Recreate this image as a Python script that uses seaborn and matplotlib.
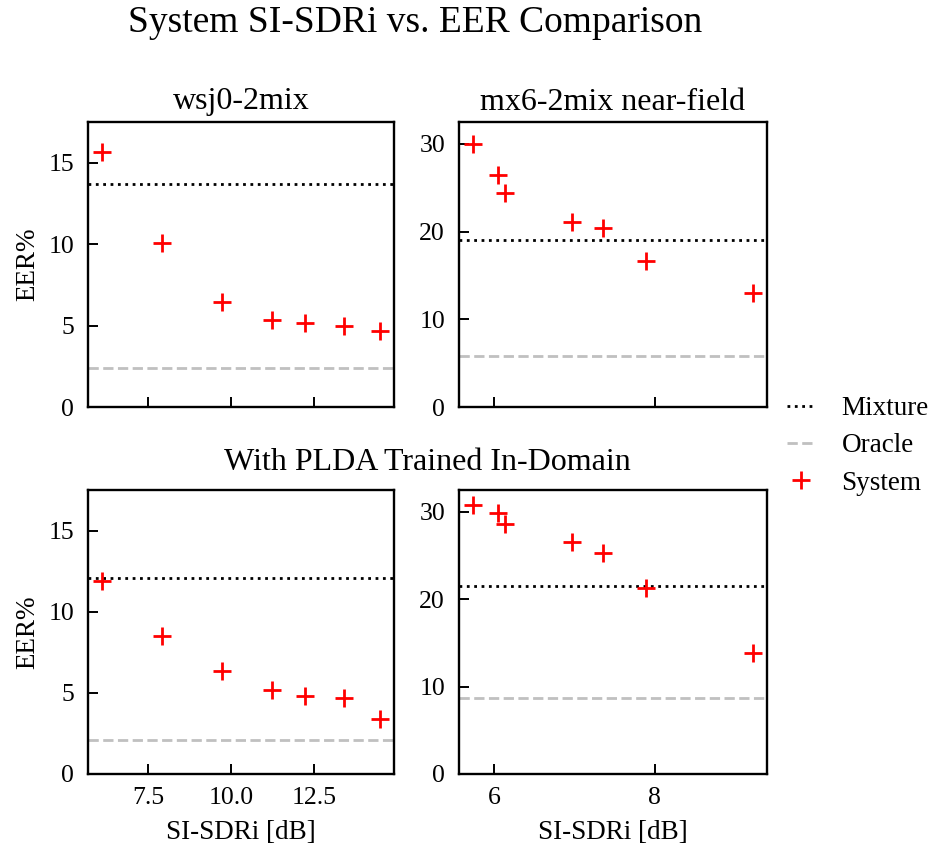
import matplotlib
matplotlib.use('Agg')
import matplotlib.pyplot as plt
from matplotlib.lines import Line2D
import seaborn as sns
import pandas as pd

# SI-SDRi [dB] of each system, per dataset (same systems in both rows)
sdr_wsj = [6.11, 7.91, 9.74, 11.24, 12.22, 13.40, 14.49]
sdr_mx6 = [5.74, 6.05, 6.14, 6.97, 7.36, 7.89, 9.22]

# EER% of the systems
eer_wsj = [15.63, 10.10, 6.45, 5.33, 5.16, 4.96, 4.69]
eer_mx6 = [30.0, 26.5, 24.4, 21.1, 20.4, 16.6, 12.95]
eer_wsj_plda = [11.90, 8.50, 6.34, 5.17, 4.78, 4.66, 3.39]
eer_mx6_plda = [30.84, 29.85, 28.63, 26.5, 25.32, 21.25, 13.88]

# reference lines
mixture_wsj, oracle_wsj = 13.71, 2.38
mixture_mx6, oracle_mx6 = 19.07, 5.81
mixture_wsj_plda, oracle_wsj_plda = 12.05, 2.09
mixture_mx6_plda, oracle_mx6_plda = 21.48, 8.71

sns.set_style('white')
plt.rcParams['font.family'] = ['Liberation Serif', 'DejaVu Serif']
plt.rcParams['text.color'] = 'black'
plt.rcParams['axes.labelcolor'] = 'black'
plt.rcParams['xtick.color'] = 'black'
plt.rcParams['ytick.color'] = 'black'

fig = plt.figure(figsize=(9.36, 8.44), dpi=100)
W, H = 936, 844

def box(x0, x1, y0, y1):
    return [x0 / W, 1 - y1 / H, (x1 - x0) / W, (y1 - y0) / H]

ax_tl = fig.add_axes(box(88, 394, 122, 407))
ax_tr = fig.add_axes(box(459, 767, 122, 407))
ax_bl = fig.add_axes(box(88, 394, 490, 774), sharex=ax_tl)
ax_br = fig.add_axes(box(459, 767, 490, 774), sharex=ax_tr)

panels = [
    (ax_tl, sdr_wsj, eer_wsj, mixture_wsj, oracle_wsj, 17.5, [0, 5, 10, 15]),
    (ax_tr, sdr_mx6, eer_mx6, mixture_mx6, oracle_mx6, 32.5, [0, 10, 20, 30]),
    (ax_bl, sdr_wsj, eer_wsj_plda, mixture_wsj_plda, oracle_wsj_plda, 17.5, [0, 5, 10, 15]),
    (ax_br, sdr_mx6, eer_mx6_plda, mixture_mx6_plda, oracle_mx6_plda, 32.5, [0, 10, 20, 30]),
]

for ax, xs, ys, mix, orc, ytop, yt in panels:
    df = pd.DataFrame({'sdr': xs, 'eer': ys})
    ax.axhline(mix, color='black', linestyle=':', linewidth=2.0)
    ax.axhline(orc, color='#c0c0c0', linestyle='--', linewidth=2.0)
    sns.scatterplot(data=df, x='sdr', y='eer', ax=ax, marker='+', color='red',
                    s=160, linewidth=2.0, zorder=3)
    ax.set_ylim(0, ytop)
    ax.set_yticks(yt)
    ax.set_xlabel('')
    ax.set_ylabel('')
    ax.tick_params(direction='in', length=7, width=1.4, labelsize=18.5,
                   left=True, bottom=True, top=False, right=False)
    ax.tick_params(axis='y', pad=10)
    ax.tick_params(axis='x', pad=9)
    for sp in ax.spines.values():
        sp.set_linewidth(1.7)
        sp.set_color('black')

ax_tl.set_xticks([7.5, 10.0, 12.5])
ax_tl.set_xticklabels(['7.5', '10.0', '12.5'])
ax_tr.set_xticks([6, 8])
ax_tl.tick_params(labelbottom=False)
ax_tr.tick_params(labelbottom=False)

ax_tl.set_title('wsj0-2mix', fontsize=23, pad=9)
ax_tr.set_title('mx6-2mix near-field', fontsize=23, pad=9)
ax_tl.set_ylabel('EER%', fontsize=19.5, labelpad=6)
ax_bl.set_ylabel('EER%', fontsize=19.5, labelpad=6)
ax_bl.set_xlabel('SI-SDRi [dB]', fontsize=19.5, labelpad=8)
ax_br.set_xlabel('SI-SDRi [dB]', fontsize=19.5, labelpad=8)

fig.suptitle('System SI-SDRi vs. EER Comparison', fontsize=27,
             x=415 / W, y=0.993)
fig.text(427 / W, 1 - 463 / H, 'With PLDA Trained In-Domain', fontsize=23,
         ha='center', va='center')

handles = [
    Line2D([], [], color='black', linestyle=':', linewidth=2.0),
    Line2D([], [], color='#c0c0c0', linestyle='--', linewidth=2.0),
    Line2D([], [], color='red', marker='+', linestyle='', markersize=12.5, markeredgewidth=2.0),
]
fig.legend(handles, ['Mixture', 'Oracle', 'System'], loc='center left',
           bbox_to_anchor=(0.815, 1 - 446 / H), frameon=False, fontsize=19.5,
           handlelength=1.0, handletextpad=1.0, labelspacing=0.45)

fig.savefig('out.png', dpi=100)
